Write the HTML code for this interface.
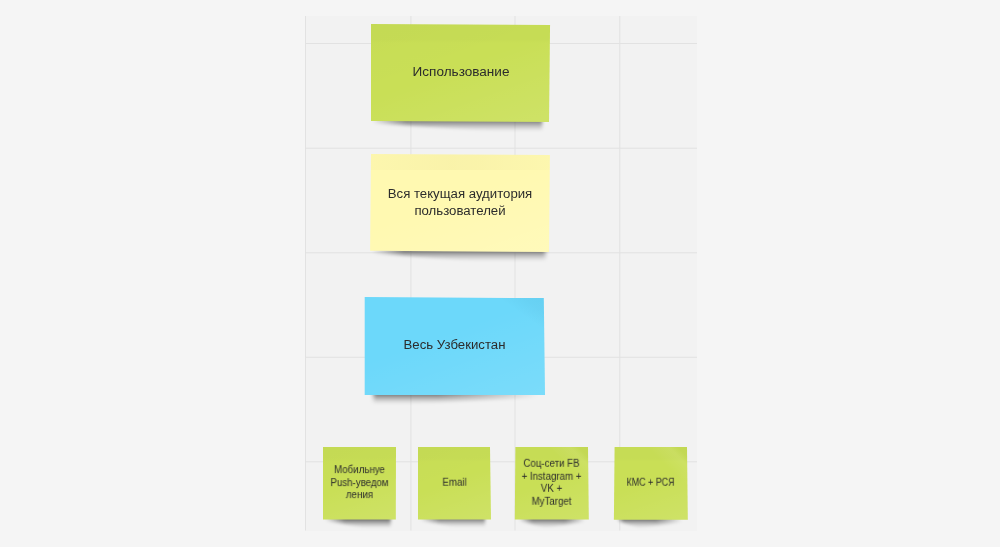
<!DOCTYPE html>
<html><head><meta charset="utf-8">
<style>
html,body{margin:0;padding:0;}
body{width:1000px;height:547px;background:#f5f5f5;position:relative;overflow:hidden;font-family:"Liberation Sans",sans-serif;}
.panel{position:absolute;left:305px;top:16px;width:392px;height:514.5px;background:#f2f2f2;overflow:hidden;}
.g{position:absolute;left:0;top:0;}
.note{position:absolute;}
.sh{position:absolute;}
.sh i{position:absolute;left:0;top:0;right:0;bottom:0;}
.bg{position:absolute;left:0;top:0;right:0;bottom:0;}
.bg::after{content:"";position:absolute;left:0;top:0;right:0;bottom:0;background:linear-gradient(to bottom,rgba(0,0,0,0.015) 0,rgba(0,0,0,0.015) 15%,rgba(0,0,0,0) 20%),linear-gradient(160deg,rgba(0,0,0,0.01) 0,rgba(255,255,255,0) 45%,rgba(255,255,255,0.1) 100%);}
.yl::after{background:linear-gradient(to bottom,rgba(0,0,0,0) 0,rgba(0,0,0,0) 14%,rgba(255,255,255,0) 19%),linear-gradient(to right,rgba(120,100,0,0.02) 0,rgba(120,100,0,0.045) 45%,rgba(120,100,0,0.04) 60%,rgba(120,100,0,0.015) 100%) 0 0/100% 16px no-repeat,linear-gradient(160deg,rgba(0,0,0,0) 0,rgba(255,255,255,0) 45%,rgba(255,255,255,0.12) 100%);}
.bl::after{background:linear-gradient(215deg,rgba(0,60,90,0.05) 0,rgba(0,60,90,0.04) 7%,rgba(0,0,0,0) 15%),linear-gradient(160deg,rgba(0,0,0,0) 0,rgba(255,255,255,0) 40%,rgba(255,255,255,0.1) 100%);}
.pl::after{background:linear-gradient(to bottom,rgba(0,0,0,0.015) 0,rgba(0,0,0,0.015) 15%,rgba(0,0,0,0) 20%),linear-gradient(225deg,rgba(0,0,0,0.02) 0,rgba(0,0,0,0.015) 7%,rgba(255,255,255,0.08) 13%,rgba(255,255,255,0) 28%),linear-gradient(160deg,rgba(0,0,0,0) 0,rgba(255,255,255,0) 45%,rgba(255,255,255,0.1) 100%);}
.tx{will-change:transform;position:absolute;left:-20px;right:-20px;top:50%;text-align:center;color:#2c2c2c;}
.big .tx{font-size:12px;line-height:17.2px;}
.small .tx{font-size:10px;line-height:12.6px;}
</style></head>
<body>
<div class="panel"><svg class="g" width="392" height="514.5" viewBox="0 0 392 514.5"><rect x="0" y="0" width="1" height="514.5" fill="#e2e2e2"/><rect x="105.4" y="0" width="1" height="514.5" fill="#e2e2e2"/><rect x="209.5" y="0" width="1" height="514.5" fill="#e2e2e2"/><rect x="314.3" y="0" width="1" height="514.5" fill="#e2e2e2"/><rect x="0" y="27" width="392" height="1" fill="#e2e2e2"/><rect x="0" y="131.7" width="392" height="1" fill="#e2e2e2"/><rect x="0" y="236.3" width="392" height="1" fill="#e2e2e2"/><rect x="0" y="340.8" width="392" height="1" fill="#e2e2e2"/><rect x="0" y="445.3" width="392" height="1" fill="#e2e2e2"/></svg></div>
<div class="note big" style="left:371px;top:24px;width:180px;height:98px;"><div class="sh" style="left:1px;top:94.4px;width:171.5px;height:13px;filter:blur(1.6px);"><i style="background:linear-gradient(to bottom,rgba(0,0,0,0.62) 0,rgba(0,0,0,0.38) 35%,rgba(0,0,0,0.14) 70%,rgba(0,0,0,0) 100%);-webkit-mask-image:linear-gradient(to right,rgba(0,0,0,0) 0,rgba(0,0,0,1) 20%,rgba(0,0,0,1) 98%,rgba(0,0,0,0) 100%);clip-path:polygon(0 0,100% 0,100% 100%,75% 100%,0 40%);"></i></div><div class="bg " style="background:#c9df56;clip-path:polygon(0px 0px,179.05px 0.9px,178px 97.9px,0px 96.9px);"></div><div class="tx" style="top:48.92px;transform:translateY(-50%) scaleX(1.13);">Использование</div></div>
<div class="note big" style="left:370px;top:154px;width:180px;height:98px;"><div class="sh" style="left:2px;top:94.35px;width:175.5px;height:13px;filter:blur(1.6px);"><i style="background:linear-gradient(to bottom,rgba(0,0,0,0.62) 0,rgba(0,0,0,0.38) 35%,rgba(0,0,0,0.14) 70%,rgba(0,0,0,0) 100%);-webkit-mask-image:linear-gradient(to right,rgba(0,0,0,0) 0,rgba(0,0,0,1) 18%,rgba(0,0,0,1) 97%,rgba(0,0,0,0) 100%);clip-path:polygon(0 0,100% 0,100% 100%,60% 100%,0 40%);"></i></div><div class="bg yl" style="background:#fff9b1;clip-path:polygon(1px 0px,179.9px 1.1px,179px 97.9px,0.1px 96.8px);"></div><div class="tx" style="top:49.25px;transform:translateY(-50%) scaleX(1.1);">Вся текущая аудитория<br>пользователей</div></div>
<div class="note big" style="left:364px;top:297px;width:181px;height:98px;"><div class="sh" style="left:7px;top:94.9px;width:167px;height:12px;filter:blur(1.6px);"><i style="background:linear-gradient(to bottom,rgba(0,0,0,0.6) 0,rgba(0,0,0,0.37) 35%,rgba(0,0,0,0.13) 70%,rgba(0,0,0,0) 100%);-webkit-mask-image:linear-gradient(to right,rgba(0,0,0,0) 0,rgba(0,0,0,1) 3%,rgba(0,0,0,1) 40%,rgba(0,0,0,0) 100%);clip-path:polygon(0 0,100% 0,100% 50%,25% 100%,0 100%);"></i></div><div class="bg bl" style="background:#6cd8fa;clip-path:polygon(0.7px 0.1px,179.8px 1.1px,181px 97.9px,0.7px 97.9px);"></div><div class="tx" style="top:49.45px;transform:translateY(-50%) scaleX(1.1);">Весь Узбекистан</div></div>
<div class="note small" style="left:323px;top:447px;width:73px;height:73px;"><div class="sh" style="left:2px;top:69.6px;width:67px;height:11px;filter:blur(1.5px);"><i style="background:linear-gradient(to bottom,rgba(0,0,0,0.68) 0,rgba(0,0,0,0.42) 35%,rgba(0,0,0,0.15) 70%,rgba(0,0,0,0) 100%);-webkit-mask-image:linear-gradient(to right,rgba(0,0,0,0) 0,rgba(0,0,0,1) 30%,rgba(0,0,0,1) 96%,rgba(0,0,0,0) 100%);clip-path:polygon(0 0,100% 0,100% 100%,60% 100%,0 40%);"></i></div><div class="bg " style="background:#c9df56;clip-path:polygon(0px 0px,73px 0px,72.8px 72.6px,0px 72.6px);"></div><div class="tx" style="top:36.3px;transform:translateY(-50%) scaleX(0.97);">Мобильнуе<br>Push-уведом<br>ления</div></div>
<div class="note small" style="left:418px;top:447px;width:73px;height:73px;"><div class="sh" style="left:2px;top:69.4px;width:66px;height:11px;filter:blur(1.5px);"><i style="background:linear-gradient(to bottom,rgba(0,0,0,0.68) 0,rgba(0,0,0,0.42) 35%,rgba(0,0,0,0.15) 70%,rgba(0,0,0,0) 100%);-webkit-mask-image:linear-gradient(to right,rgba(0,0,0,0) 0,rgba(0,0,0,1) 30%,rgba(0,0,0,1) 97%,rgba(0,0,0,0) 100%);clip-path:polygon(0 0,100% 0,100% 100%,60% 100%,0 40%);"></i></div><div class="bg " style="background:#c9df56;clip-path:polygon(0px 0px,72px 0px,73px 72.4px,0px 72.4px);"></div><div class="tx" style="top:36.2px;transform:translateY(-50%) scaleX(0.97);">Email</div></div>
<div class="note small" style="left:514px;top:447px;width:75px;height:73px;"><div class="sh" style="left:5px;top:69.6px;width:66px;height:11px;filter:blur(1.5px);"><i style="background:linear-gradient(to bottom,rgba(0,0,0,0.65) 0,rgba(0,0,0,0.4) 35%,rgba(0,0,0,0.14) 70%,rgba(0,0,0,0) 100%);-webkit-mask-image:linear-gradient(to right,rgba(0,0,0,0) 0,rgba(0,0,0,1) 20%,rgba(0,0,0,1) 70%,rgba(0,0,0,0) 100%);clip-path:polygon(0 0,100% 0,100% 50%,40% 100%,0 40%);"></i></div><div class="bg pl" style="background:#c9df56;clip-path:polygon(1.4px 0px,74px 0px,74.8px 72.6px,0.8px 72.6px);"></div><div class="tx" style="top:36.3px;transform:translateY(-50%) scaleX(0.97);">Соц-сети FB<br>+ Instagram +<br>VK +<br>MyTarget</div></div>
<div class="note small" style="left:613px;top:447px;width:75px;height:73px;"><div class="sh" style="left:4px;top:69.7px;width:65px;height:11px;filter:blur(1.5px);"><i style="background:linear-gradient(to bottom,rgba(0,0,0,0.65) 0,rgba(0,0,0,0.4) 35%,rgba(0,0,0,0.14) 70%,rgba(0,0,0,0) 100%);-webkit-mask-image:linear-gradient(to right,rgba(0,0,0,0) 0,rgba(0,0,0,1) 10%,rgba(0,0,0,1) 60%,rgba(0,0,0,0) 100%);clip-path:polygon(0 0,100% 0,100% 50%,35% 100%,0 40%);"></i></div><div class="bg pl" style="background:#c9df56;clip-path:polygon(1.6px 0px,74px 0px,74.8px 72.7px,0.9px 72.7px);"></div><div class="tx" style="top:36.35px;transform:translateY(-50%) scaleX(0.89);">КМС + РСЯ</div></div>
</body></html>
